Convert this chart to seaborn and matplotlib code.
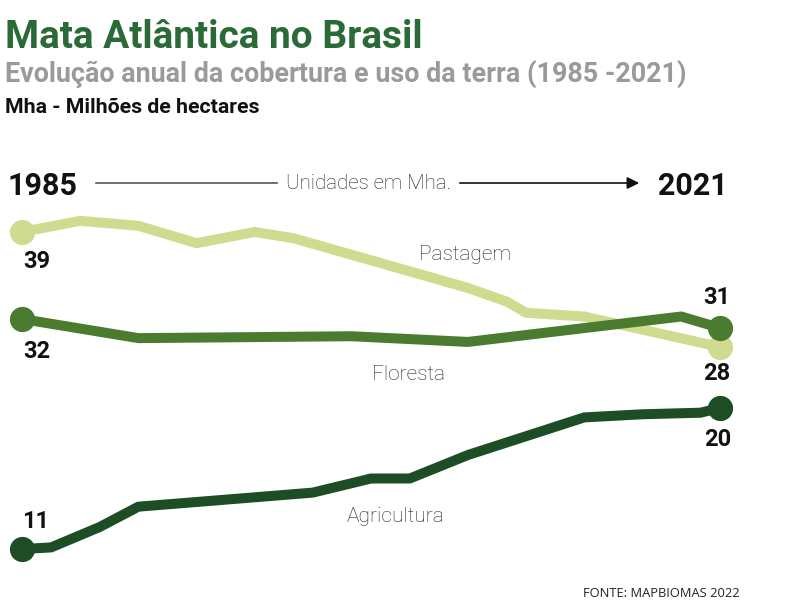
import numpy as np
import pandas as pd
import seaborn as sns
import matplotlib.pyplot as plt

# ---- data (Mha) ----
pasto_years = [1985, 1988, 1991, 1994, 1997, 1999, 2008, 2010, 2011, 2014, 2021]
pasto_vals = [39, 39.9, 39.5, 38.1, 39.0, 38.5, 34.5, 33.4, 32.5, 32.2, 28]

flor_years = [1985, 1991, 2002, 2008, 2019, 2021]
flor_vals = [32, 29.4, 29.7, 28.8, 32.2, 31]

agri_years = [1985, 1986.5, 1989, 1991, 2000, 2003, 2005, 2008, 2014, 2017, 2020, 2021]
agri_vals = [11, 11.1, 12.4, 13.7, 14.6, 15.5, 15.5, 17.0, 19.4, 19.6, 19.7, 20]

series_names = ["Pastagem", "Floresta", "Agricultura"]
colors = {"Pastagem": "#cfdb8f", "Floresta": "#4a7b2e", "Agricultura": "#1d4d25"}

df = pd.concat([
    pd.DataFrame({"ano": pasto_years, "mha": pasto_vals, "uso": "Pastagem"}),
    pd.DataFrame({"ano": flor_years, "mha": flor_vals, "uso": "Floresta"}),
    pd.DataFrame({"ano": agri_years, "mha": agri_vals, "uso": "Agricultura"}),
])

# the original graphic uses an uneven vertical scale; reproduce it
val_anchor = [0, 11, 20, 28, 31, 32, 39, 70]
pos_anchor = [-118.3, 54, 195, 256, 275, 284, 371, 756]


def fwd(v):
    return np.interp(v, val_anchor, pos_anchor)


def inv(p):
    return np.interp(p, pos_anchor, val_anchor)


sns.set_theme(style="white")
plt.rcParams["font.family"] = ["Roboto", "DejaVu Sans"]

fig = plt.figure(figsize=(8, 6.03), dpi=100)
ax = fig.add_axes([0, 0, 1, 1])
ax.set_yscale("function", functions=(fwd, inv))

sns.lineplot(data=df, x="ano", y="mha", hue="uso", palette=colors,
             linewidth=7.2, legend=False, ax=ax, sort=False,
             solid_joinstyle="miter", solid_capstyle="butt")

ends = df.groupby("uso").agg(x0=("ano", "first"), y0=("mha", "first"),
                             x1=("ano", "last"), y1=("mha", "last"))
for name in series_names:
    r = ends.loc[name]
    ax.scatter([r.x0, r.x1], [r.y0, r.y1], s=330, color=colors[name],
               zorder=5, linewidths=0)

ax.set_xlim(1983.865, 2025.126)
ax.set_ylim(inv(0), inv(603))
ax.axis("off")

# value labels at the ends
offsets = {
    "Pastagem": ((15, -30), (-3, -26)),
    "Floresta": ((15, -33), (-3, 30)),
    "Agricultura": ((14, 27), (-2, -31)),
}
for name in series_names:
    r = ends.loc[name]
    o0, o1 = offsets[name]
    for x, y, o in [(r.x0, r.y0, o0), (r.x1, r.y1, o1)]:
        ax.annotate(f"{y:.0f}", (x, y), xytext=o, textcoords="offset pixels",
                    ha="center", va="center", fontsize=17, fontweight="bold",
                    color="#111111")

# series names
lbl = dict(ha="center", va="center", fontsize=15, fontweight="light", color="#222222")
fig.text(465 / 800, 1 - 254 / 603, "Pastagem", **lbl)
fig.text(409 / 800, 1 - 374 / 603, "Floresta", **lbl)
fig.text(396 / 800, 1 - 516 / 603, "Agricultura", **lbl)

# header
fig.text(5 / 800, 1 - 48 / 603, "Mata Atlântica no Brasil", ha="left",
         va="baseline", fontsize=28, fontweight="bold", color="#2a6a36")
fig.text(5 / 800, 1 - 82 / 603, "Evolução anual da cobertura e uso da terra (1985 -2021)",
         ha="left", va="baseline", fontsize=19.4, fontweight="bold", color="#9a9a9a")
fig.text(5 / 800, 1 - 113 / 603, "Mha - Milhões de hectares", ha="left",
         va="baseline", fontsize=15.3, fontweight="bold", color="#111111")

# year span with arrow
fig.text(8 / 800, 1 - 195 / 603, "1985", ha="left", va="baseline", fontsize=22,
         fontweight="bold", color="#111111")
fig.text(658 / 800, 1 - 195 / 603, "2021", ha="left", va="baseline", fontsize=22,
         fontweight="bold", color="#111111")
fig.text(369 / 800, 1 - 184 / 603, "Unidades em Mha.", ha="center", va="center",
         fontsize=14.7, fontweight="light", color="#222222")
ax.annotate("", xy=(280 / 800, 1 - 183 / 603), xytext=(93 / 800, 1 - 183 / 603),
            xycoords="figure fraction",
            arrowprops=dict(arrowstyle="-", color="#555555", lw=1.2))
ax.annotate("", xy=(642 / 800, 1 - 183 / 603), xytext=(457 / 800, 1 - 183 / 603),
            xycoords="figure fraction",
            arrowprops=dict(arrowstyle="-|>", color="#111111", lw=1.2,
                            mutation_scale=18))

fig.text(740 / 800, 1 - 597 / 603, "FONTE: MAPBIOMAS 2022", ha="right",
         va="baseline", fontsize=9.3, color="#222222", family=["Open Sans", "Roboto"])

fig.savefig("out.png", dpi=100)
